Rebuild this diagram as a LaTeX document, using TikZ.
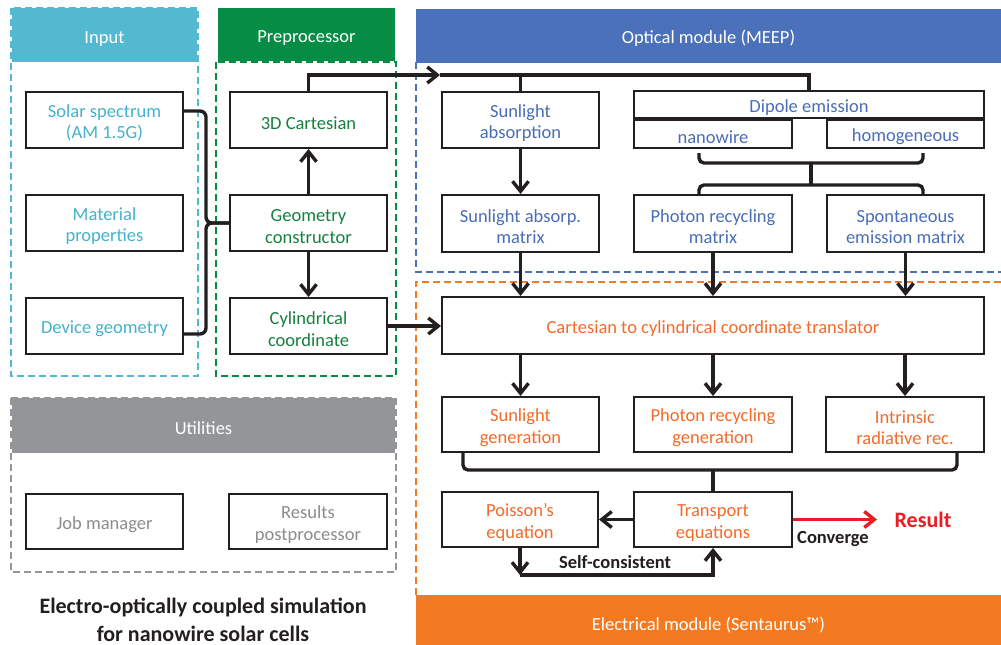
\documentclass[tikz,border=0pt]{standalone}
\usepackage{fontspec}
\setmainfont{Carlito}
\usetikzlibrary{arrows.meta,calc}
\definecolor{cyanT}{HTML}{45B2CD}
\definecolor{cyanF}{HTML}{52B9D1}
\definecolor{greenF}{HTML}{078C45}
\definecolor{greenT}{HTML}{16803F}
\definecolor{blueF}{HTML}{4A71B9}
\definecolor{blueT}{HTML}{4A6DB7}
\definecolor{orangeF}{HTML}{F37A21}
\definecolor{orangeT}{HTML}{F26B2A}
\definecolor{grayF}{HTML}{939598}
\definecolor{grayT}{HTML}{8C8C8C}
\definecolor{ink}{HTML}{231F20}
\definecolor{resred}{HTML}{ED1C24}
\newcommand\upstrut{\rule{0pt}{19pt}}
\tikzset{
  txt/.style={font=\fontsize{18.5}{21.5}\selectfont, align=center, inner sep=0pt,
    execute at begin node={\upstrut}},
  box/.style={txt, draw=ink, line width=2pt, fill=white, minimum width=157, minimum height=56},
  head/.style={txt, text=white, minimum height=54},
  conn/.style={draw=ink, line width=3.4pt},
  arr/.style={conn, -{Straight Barb[length=10pt,width=16pt]}},
  redarr/.style={draw=resred, line width=3.4pt, -{Straight Barb[length=10pt,width=16pt]}},
  dashbox/.style={line width=1.5pt, dash pattern=on 7pt off 4pt},
  lbl/.style={font=\fontsize{18.5}{21.5}\selectfont\bfseries, text=ink, inner sep=0pt},
}
\begin{document}
\begin{tikzpicture}[x=1pt,y=-1pt]
\useasboundingbox[fill=white] (0,0) rectangle (1001,645);

% dashed frames
\draw[dashbox, draw=cyanF] (11,8) rectangle (198,376);
\draw[dashbox, draw=greenF] (216,62) rectangle (396,376);
\draw[dashbox, draw=grayF] (11,398) rectangle (396,572);
\draw[dashbox, draw=blueF] (416,62) -- (416,272) -- (1001,272);
\draw[dashbox, draw=orangeF] (1001,282) -- (416,282) -- (416,595);

% headers
\node[head, fill=cyanF, minimum width=185] (inputH) at (104.5,35) {Input};
\node[head, fill=greenF, minimum width=177, minimum height=53] (prepH) at (306.5,34.5) {Preprocessor};
\node[head, fill=blueF, minimum width=585] (optH) at (708.5,35.5) {Optical module (MEEP)};
\node[head, fill=orangeF, minimum width=585, minimum height=54] (elecH) at (708.5,622) {Electrical module (Sentaurus™)};
\node[head, fill=grayF, minimum width=383, minimum height=55] (utilH) at (203.5,425.5) {Utilities};

% input
\node[box, text=cyanT] (solar) at (104.5,120) {\upstrut Solar spectrum\\(AM 1.5G)};
\node[box, text=cyanT] (material) at (104.5,223) {\upstrut Material\\properties};
\node[box, text=cyanT] (device) at (104.5,326) {Device geometry};

% preprocessor
\node[box, text=greenT] (cart) at (308.5,120) {3D Cartesian};
\node[box, text=greenT] (geo) at (308.5,223) {\upstrut Geometry\\constructor};
\node[box, text=greenT] (cyl) at (308.5,326) {\upstrut Cylindrical\\coordinate};

% optical
\node[box, text=blueT] (sunabs) at (520.5,120) {\upstrut Sunlight\\absorption};
\node[box, text=blueT, minimum width=350, minimum height=27] (dipole) at (809,104.5) {Dipole emission};
\node[box, text=blueT, minimum width=158, minimum height=28] (nanowire) at (713,134) {nanowire};
\node[box, text=blueT, minimum width=157, minimum height=28] (homog) at (905.5,134) {homogeneous};
\node[box, text=blueT, minimum height=57] (sunmat) at (520.5,223.5) {\upstrut Sunlight absorp.\\matrix};
\node[box, text=blueT, minimum width=158, minimum height=57] (photmat) at (713,223.5) {\upstrut Photon recycling\\matrix};
\node[box, text=blueT, minimum height=57] (spontmat) at (905.5,223.5) {\upstrut Spontaneous\\emission matrix};

% electrical
\node[box, text=orangeT, minimum width=542, minimum height=57] (trans) at (713,325.5) {Cartesian to cylindrical coordinate translator};
\node[box, text=orangeT, minimum height=55] (sungen) at (520.5,424.5) {\upstrut Sunlight\\generation};
\node[box, text=orangeT, minimum width=158, minimum height=55] (photgen) at (713,424.5) {\upstrut Photon recycling\\generation};
\node[box, text=orangeT, minimum width=158, minimum height=55] (intrgen) at (905,424.5) {\upstrut Intrinsic\\radiative rec.};
\node[box, text=orangeT, minimum width=156, minimum height=55] (poisson) at (520,519.5) {\upstrut Poisson’s\\equation};
\node[box, text=orangeT, minimum width=158, minimum height=55] (transport) at (713,519.5) {\upstrut Transport\\equations};

% utilities
\node[box, text=grayT, minimum height=55] (job) at (104.5,521.5) {Job manager};
\node[box, text=grayT, minimum width=158, minimum height=55] (results) at (308,521.5) {\upstrut Results\\postprocessor};

% title
\node[font=\fontsize{22}{28}\selectfont\bfseries, text=ink, align=center, inner sep=0pt] (title) at (203,620) {Electro-optically coupled simulation\\for nanowire solar cells};

% input bracket
\coordinate (bj) at (206,223);
\draw[conn, rounded corners=6pt] ($(solar.east)+(0,-9)$) -| (bj) -- (geo.west);
\draw[conn, rounded corners=6pt] ($(device.east)+(0,8)$) -| (bj) -- (geo.west);

% preprocessor arrows
\draw[arr] (geo.north) -- (cart.south);
\draw[arr] (geo.south) -- (cyl.north);
\coordinate (tip) at (440,75);
\draw[arr] (cart.north) |- (tip);
\draw[conn] (tip) -| (dipole.north);
\draw[conn] (sunabs.north |- tip) -- (sunabs.north);
\draw[arr] (cyl.east) -- (trans.west |- cyl.east);

% optical connectors
\draw[arr] (sunabs.south) -- (sunmat.north);
\coordinate (d1) at (699,153);
\coordinate (d2) at (923,153);
\coordinate (dm) at (811,163);
\coordinate (dm2) at (811,185);
\draw[conn, rounded corners=5pt] (d1) |- (dm) -| (d2);
\draw[conn] (dm) -- (dm2);
\draw[conn, rounded corners=5pt] (photmat.north -| d1) |- (dm2) -| (spontmat.north -| d2);
\draw[arr] (sunmat.south) -- (sunmat.south |- trans.north);
\draw[arr] (photmat.south) -- (photmat.south |- trans.north);
\draw[arr] (spontmat.south) -- (spontmat.south |- trans.north);

% electrical connectors
\draw[arr] (trans.south -| sungen) -- (sungen.north);
\draw[arr] (trans.south -| photgen) -- (photgen.north);
\draw[arr] (trans.south -| intrgen) -- (intrgen.north);
\coordinate (g1) at (463,452);
\coordinate (g2) at (957,452);
\coordinate (gm) at (713,470);
\draw[conn, rounded corners=5pt] (sungen.south -| g1) |- (gm) -| (intrgen.south -| g2);
\draw[conn] (gm) -- (transport.north);
\draw[arr] (transport.west) -- (poisson.east);
\coordinate (lpL) at (520,575);
\draw[arr] (poisson.south) -- (lpL);
\draw[arr] (lpL) -| (transport.south);
\node[lbl] (selfc) at (615,562) {Self-consistent};

% result
\node[font=\fontsize{22}{26}\selectfont\bfseries, text=resred, inner sep=0pt] (result) at (923,520) {Result};
\coordinate (rtip) at (877,519.5);
\draw[redarr] (transport.east) -- (rtip);
\node[lbl] (conv) at (833,539) {Converge};
\end{tikzpicture}
\end{document}
